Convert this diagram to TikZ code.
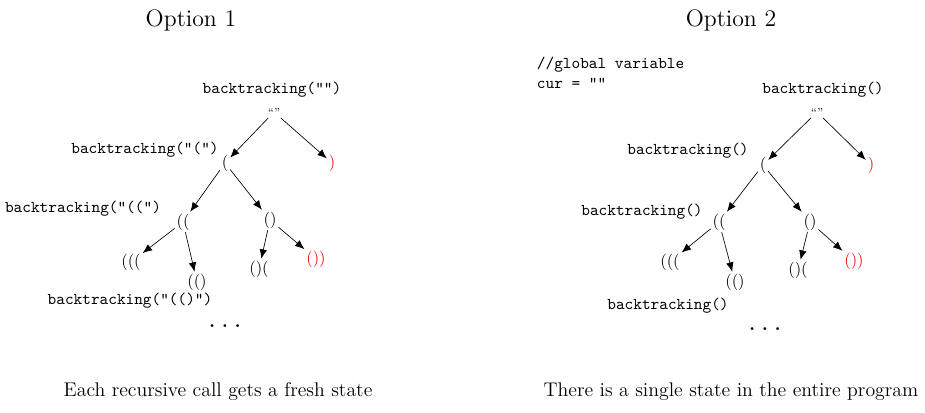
\documentclass[tikz,border=0pt]{standalone}
\usepackage{xcolor}
\usetikzlibrary{positioning,arrows.meta}

\begin{document}
\begin{tikzpicture}[x=0.606pt, y=-0.606pt, st/.style={inner sep=1pt}, bad/.style={st, text=red},
    call/.style={font=\ttfamily, inner sep=1pt}, >={Latex[length=2mm, width=1.6mm]}]
    \useasboundingbox (0,0) rectangle (925,413);
    % option 1
    \node[font=\Large] (t1) at (191,20) {Option 1};
    \node[st, font=\scriptsize] (r1) at (274,112) {``''};
    \node[st] (a1) at (225,163) {(};
    \node[bad] (b1) at (332,163) {)};
    \node[st] (aa1) at (183,222) {((};
    \node[st] (ab1) at (270,220) {()};
    \node[st] (aaa1) at (131,262) {(((};
    \node[st] (aab1) at (197,282) {(()};
    \node[st] (aba1) at (259,269) {()(};
    \node[bad] (abb1) at (316,259) {())};
    \node[font=\large\bfseries] (d1) at (225,326) {.\,\,.\,\,.};
    \node[call] (c10) at (272,90) {backtracking("")};
    \node[call] (c11) at (145,150) {backtracking("(")};
    \node[call] (c12) at (83,209) {backtracking("((")};
    \node[call] (c13) at (130,301) {backtracking("(()")};
    \node[font=\large] (s1) at (218,392) {Each recursive call gets a fresh state};
    \draw[->] (r1) -- (a1); \draw[->] (r1) -- (b1); \draw[->] (a1) -- (aa1); \draw[->] (a1) -- (ab1);
    \draw[->] (aa1) -- (aaa1); \draw[->] (aa1) -- (aab1); \draw[->] (ab1) -- (aba1); \draw[->] (ab1) -- (abb1);
    % option 2
    \node[font=\Large] (t2) at (731,20) {Option 2};
    \node[call, anchor=west, align=left] (g2) at (535,73) {//global variable\\cur = ""};
    \node[st, font=\scriptsize] (r2) at (817,112) {``''};
    \node[st] (a2) at (763,165) {(};
    \node[bad] (b2) at (871,165) {)};
    \node[st] (aa2) at (719,222) {((};
    \node[st] (ab2) at (810,222) {()};
    \node[st] (aaa2) at (670,262) {(((};
    \node[st] (aab2) at (735,282) {(()};
    \node[st] (aba2) at (798,270) {()(};
    \node[bad] (abb2) at (854,261) {())};
    \node[font=\large\bfseries] (d2) at (765,329) {.\,\,.\,\,.};
    \node[call] (c20) at (823,90) {backtracking()};
    \node[call] (c21) at (688,151) {backtracking()};
    \node[call] (c22) at (642,212) {backtracking()};
    \node[call] (c23) at (668,306) {backtracking()};
    \node[font=\large] (s2) at (731,392) {There is a single state in the entire program};
    \draw[->] (r2) -- (a2); \draw[->] (r2) -- (b2); \draw[->] (a2) -- (aa2); \draw[->] (a2) -- (ab2);
    \draw[->] (aa2) -- (aaa2); \draw[->] (aa2) -- (aab2); \draw[->] (ab2) -- (aba2); \draw[->] (ab2) -- (abb2);
  \end{tikzpicture}
\end{document}
